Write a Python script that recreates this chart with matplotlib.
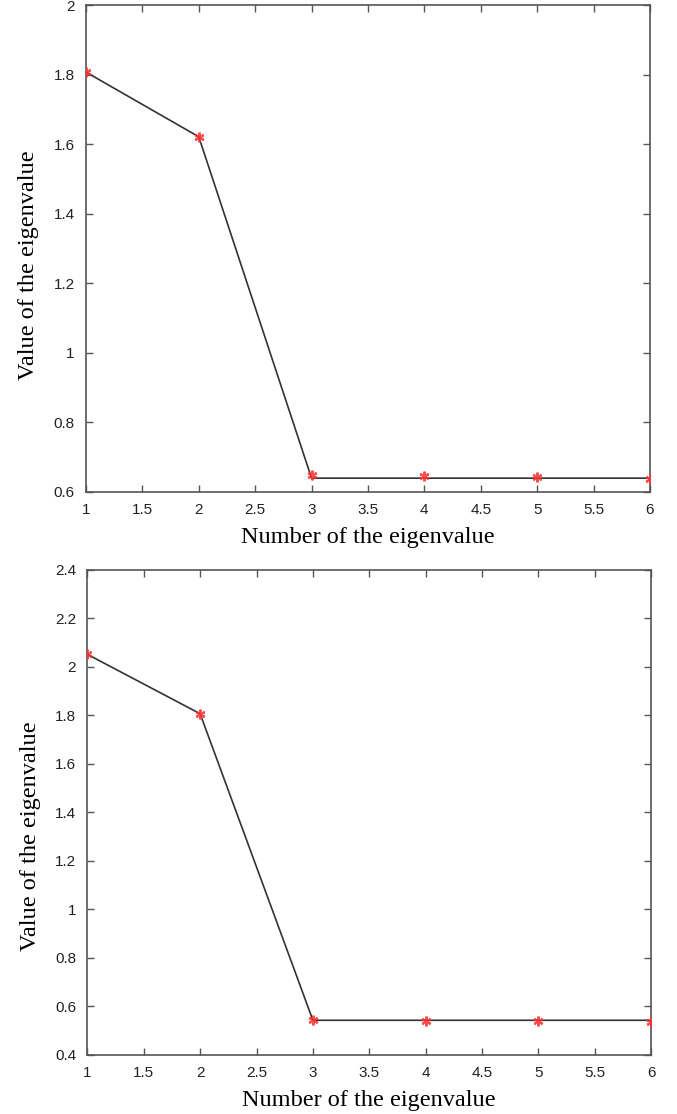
import matplotlib
matplotlib.use("Agg")
import matplotlib.pyplot as plt

# eigenvalue index
num = [1, 2, 3, 4, 5, 6]

# top panel: marker values and the drawn line
top_marks = [1.807, 1.621, 0.647, 0.644, 0.642, 0.638]
top_line = [1.807, 1.621, 0.639, 0.639, 0.639, 0.639]

# bottom panel
bot_marks = [2.052, 1.807, 0.544, 0.541, 0.539, 0.537]
bot_line = [2.052, 1.807, 0.543, 0.543, 0.543, 0.543]

xticks = [1, 1.5, 2, 2.5, 3, 3.5, 4, 4.5, 5, 5.5, 6]
xtick_labels = ["1", "1.5", "2", "2.5", "3", "3.5", "4", "4.5", "5", "5.5", "6"]
top_yticks = [0.6, 0.8, 1, 1.2, 1.4, 1.6, 1.8, 2]
top_ylabels = ["0.6", "0.8", "1", "1.2", "1.4", "1.6", "1.8", "2"]
bot_yticks = [0.4, 0.6, 0.8, 1, 1.2, 1.4, 1.6, 1.8, 2, 2.2, 2.4]
bot_ylabels = ["0.4", "0.6", "0.8", "1", "1.2", "1.4", "1.6", "1.8", "2", "2.2", "2.4"]

fig = plt.figure(figsize=(6.77, 11.14), dpi=100)
ax1 = fig.add_axes([0.127, 0.5586, 0.833, 0.4369])
ax2 = fig.add_axes([0.129, 0.0530, 0.833, 0.4354])


def style(ax, line, marks, yticks, ylabels, ylim, ylab_y):
    ax.plot(num, line, color="#333333", linewidth=1.2, zorder=2)
    ax.plot(num, marks, linestyle="none", marker=(6, 2, 0), markersize=7,
            markeredgecolor="#ff3030", markeredgewidth=1.6, zorder=3, alpha=0.85)
    ax.set_xlim(1, 6)
    ax.set_ylim(*ylim)
    ax.set_xticks(xticks)
    ax.set_xticklabels(xtick_labels)
    ax.set_yticks(yticks)
    ax.set_yticklabels(ylabels)
    ax.tick_params(direction="in", top=True, right=True, length=5, width=1,
                   color="#555555", labelsize=11, pad=8)
    for lab in ax.get_xticklabels() + ax.get_yticklabels():
        lab.set_family("Liberation Sans")
        lab.set_color("#222222")
    for sp in ax.spines.values():
        sp.set_color("#555555")
        sp.set_linewidth(1.2)
    ax.set_xlabel("Number of the eigenvalue", family="Liberation Serif",
                  fontsize=17.5, labelpad=7)
    ax.set_ylabel("Value of the eigenvalue", family="Liberation Serif",
                  fontsize=17.5)
    ax.yaxis.set_label_coords(-0.083, ylab_y)


style(ax1, top_line, top_marks, top_yticks, top_ylabels, (0.6, 2), 0.466)
style(ax2, bot_line, bot_marks, bot_yticks, bot_ylabels, (0.4, 2.4), 0.452)

fig.savefig("out.png", dpi=100)
